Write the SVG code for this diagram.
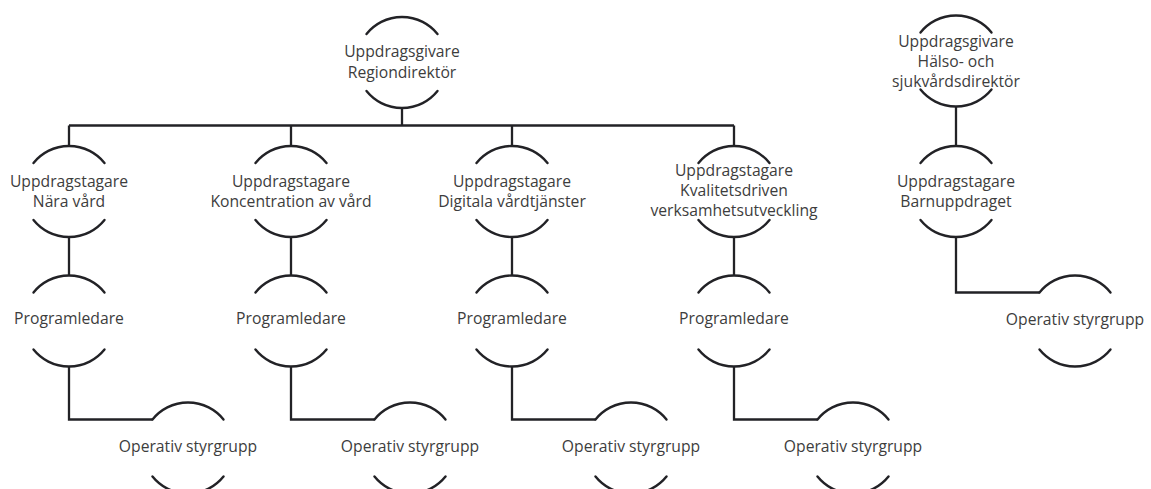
<svg xmlns="http://www.w3.org/2000/svg" xmlns:xlink="http://www.w3.org/1999/xlink" width="1151" height="489" viewBox="0 0 1151 489">
<style>
.arc{fill:none;stroke:#222226;stroke-width:2.4;stroke-linecap:round}
.con{fill:none;stroke:#222226;stroke-width:2.3;stroke-linecap:butt;stroke-linejoin:miter}
text{font-family:"Open Sans","Noto Sans","Liberation Sans",sans-serif;font-size:15.7px;fill:#3d3d3d;text-anchor:middle}
</style>
<defs>
<g id="ring">
<path class="arc" d="M-35.5,-28.5 A45.5,45.5 0 0 1 35.5,-28.5"/>
<path class="arc" d="M-35.5,28.5 A45.5,45.5 0 0 0 35.5,28.5"/>
</g>
</defs>
<rect width="1151" height="489" fill="#ffffff"/>
<g id="connectors">
<path class="con" d="M402,108 V125.5"/>
<path class="con" d="M69,125.5 H734"/>
<path class="con" d="M69,125.5 V146 M291,125.5 V146 M512,125.5 V146 M734,125.5 V146"/>
<path class="con" d="M69,237 V275.5 M291,237 V275.5 M512,237 V275.5 M734,237 V275.5"/>
<path class="con" d="M69,366.5 V419.5 H152.5"/>
<path class="con" d="M291,366.5 V419.5 H374.5"/>
<path class="con" d="M512,366.5 V419.5 H595.5"/>
<path class="con" d="M734,366.5 V419.5 H817.5"/>
<path class="con" d="M956,106.5 V146"/>
<path class="con" d="M956,237 V292.5 H1039.5"/>
</g>
<g id="regiondirektor">
<use xlink:href="#ring" href="#ring" transform="translate(402,62.5)"/>
<text x="402" y="57">Uppdragsgivare</text>
<text x="402" y="77.5">Regiondirektör</text>
</g>
<g id="halso-sjukvardsdirektor">
<use xlink:href="#ring" href="#ring" transform="translate(956,61)"/>
<text x="956" y="47">Uppdragsgivare</text>
<text x="956" y="67">Hälso- och</text>
<text x="956" y="87">sjukvårdsdirektör</text>
</g>
<g id="nara-vard">
<use xlink:href="#ring" href="#ring" transform="translate(69,191.5)"/>
<text x="69" y="187">Uppdragstagare</text>
<text x="69" y="207">Nära vård</text>
</g>
<g id="koncentration">
<use xlink:href="#ring" href="#ring" transform="translate(291,191.5)"/>
<text x="291" y="187">Uppdragstagare</text>
<text x="291" y="207">Koncentration av vård</text>
</g>
<g id="digitala">
<use xlink:href="#ring" href="#ring" transform="translate(512,191.5)"/>
<text x="512" y="187">Uppdragstagare</text>
<text x="512" y="207">Digitala vårdtjänster</text>
</g>
<g id="kvalitetsdriven">
<use xlink:href="#ring" href="#ring" transform="translate(734,191.5)"/>
<text x="734" y="176">Uppdragstagare</text>
<text x="734" y="196">Kvalitetsdriven</text>
<text x="734" y="216">verksamhetsutveckling</text>
</g>
<g id="barnuppdraget">
<use xlink:href="#ring" href="#ring" transform="translate(956,191.5)"/>
<text x="956" y="187">Uppdragstagare</text>
<text x="956" y="207">Barnuppdraget</text>
</g>
<g id="programledare-1">
<use xlink:href="#ring" href="#ring" transform="translate(69,321)"/>
<text x="69" y="324">Programledare</text>
</g>
<g id="programledare-2">
<use xlink:href="#ring" href="#ring" transform="translate(291,321)"/>
<text x="291" y="324">Programledare</text>
</g>
<g id="programledare-3">
<use xlink:href="#ring" href="#ring" transform="translate(512,321)"/>
<text x="512" y="324">Programledare</text>
</g>
<g id="programledare-4">
<use xlink:href="#ring" href="#ring" transform="translate(734,321)"/>
<text x="734" y="324">Programledare</text>
</g>
<g id="operativ-barn">
<use xlink:href="#ring" href="#ring" transform="translate(1075,321)"/>
<text x="1075" y="325">Operativ styrgrupp</text>
</g>
<g id="operativ-1">
<use xlink:href="#ring" href="#ring" transform="translate(188,448)"/>
<text x="188" y="452">Operativ styrgrupp</text>
</g>
<g id="operativ-2">
<use xlink:href="#ring" href="#ring" transform="translate(410,448)"/>
<text x="410" y="452">Operativ styrgrupp</text>
</g>
<g id="operativ-3">
<use xlink:href="#ring" href="#ring" transform="translate(631,448)"/>
<text x="631" y="452">Operativ styrgrupp</text>
</g>
<g id="operativ-4">
<use xlink:href="#ring" href="#ring" transform="translate(853,448)"/>
<text x="853" y="452">Operativ styrgrupp</text>
</g>
</svg>
